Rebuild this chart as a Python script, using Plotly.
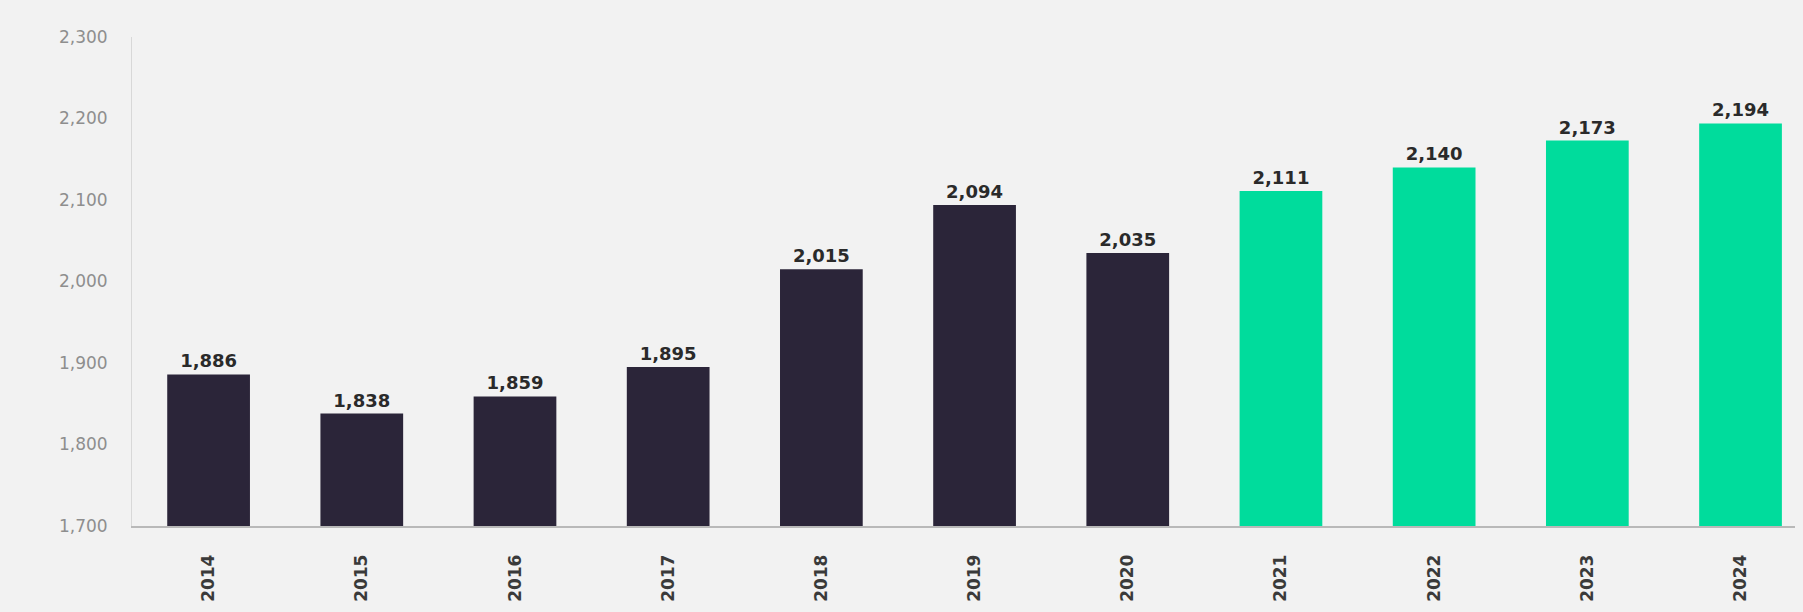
import plotly.graph_objects as go

years = ["2014", "2015", "2016", "2017", "2018", "2019", "2020", "2021", "2022", "2023", "2024"]
values = [1886, 1838, 1859, 1895, 2015, 2094, 2035, 2111, 2140, 2173, 2194]
is_forecast = [False, False, False, False, False, False, False, True, True, True, True]
y_ticks = [1700, 1800, 1900, 2000, 2100, 2200, 2300]

DARK = "#2b2539"
GREEN = "#00dc9c"
colors = [GREEN if f else DARK for f in is_forecast]

fig = go.Figure(go.Bar(
    x=years, y=values,
    marker=dict(color=colors, line=dict(width=0)),
    text=[f"{v:,}" for v in values],
    textposition="outside",
    textfont=dict(family="DejaVu Sans", size=18, color="#2a2a2a", weight="bold"),
    cliponaxis=False,
))

fig.update_layout(
    width=1803, height=612,
    margin=dict(l=124, r=0, t=29, b=94),
    paper_bgcolor="#f2f2f2", plot_bgcolor="#f2f2f2",
    bargap=0.46,
    showlegend=False,
    separators=".,",
    xaxis=dict(
        type="category", range=[-0.5, 10.46],
        tickangle=-90, showgrid=False, ticks="",
        showline=True, linecolor="#b9b9b9", linewidth=1.5,
        tickfont=dict(family="DejaVu Sans", size=17, color="#3a3a3a", weight="bold"),
        ticklabelstandoff=20,
    ),
    yaxis=dict(
        range=[1700, 2300], tickvals=y_ticks, tickformat=",d",
        showgrid=False, zeroline=False, ticks="",
        showline=True, linecolor="#d8d8d8", linewidth=1,
        tickfont=dict(family="DejaVu Sans", size=17, color="#8e8e8e"),
        ticklabelstandoff=20,
    ),
)

fig.write_html("out.html", post_script="document.body.style.background='#f2f2f2';")
